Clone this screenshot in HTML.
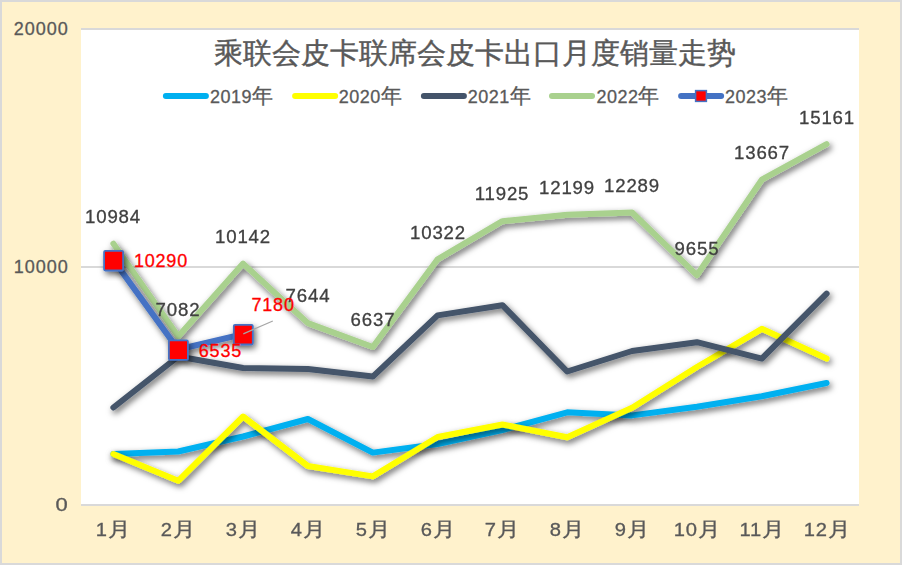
<!DOCTYPE html>
<html><head><meta charset="utf-8"><style>
html,body{margin:0;padding:0}
body{width:902px;height:565px;overflow:hidden;position:relative;background:#FFF2CC;font-family:"Liberation Sans",sans-serif}
.t{position:absolute;white-space:nowrap;font-size:18px;line-height:18px;letter-spacing:0.8px;-webkit-text-stroke:0.3px currentColor}
.title{position:absolute;left:214px;top:39px;font-size:29px;line-height:29px;white-space:nowrap;color:#595959;-webkit-text-stroke:0.4px #595959}
.ya{right:834.2px;text-align:right;color:#595959;letter-spacing:1.0px;margin-right:-1px}
.xa{width:80px;text-align:center;color:#595959;transform:scaleX(1.12)}
.xa .c{font-size:20px}
.dl{width:80px;text-align:center;color:#404040;transform:scaleX(1.035)}
.c{font-size:21px;letter-spacing:0}
.rl{color:#FF0000}
</style></head><body>
<svg width="902" height="565" viewBox="0 0 902 565" style="position:absolute;left:0;top:0">
<defs><filter id="sh" x="-50%" y="-50%" width="200%" height="200%"><feDropShadow dx="2" dy="3" stdDeviation="3" flood-color="#000" flood-opacity="0.6"/></filter></defs>
<rect x="1" y="1" width="900" height="563" fill="#FFF2CC" stroke="#D9D9D9" stroke-width="2"/>
<rect x="81" y="29" width="778" height="476" fill="#FFFFFF"/>
<line x1="81" y1="29" x2="859" y2="29" stroke="#D9D9D9" stroke-width="2"/>
<line x1="81" y1="267" x2="859" y2="267" stroke="#D9D9D9" stroke-width="2"/>
<line x1="81" y1="505" x2="859" y2="505" stroke="#D9D9D9" stroke-width="2"/>
<polyline points="113.4,454.0 178.2,451.5 243.1,436.5 307.9,419.0 372.8,452.6 437.6,444.0 502.4,430.0 567.2,412.3 632.1,415.4 696.9,406.8 761.8,396.2 826.6,383.0" stroke="#00B0F0" fill="none" stroke-width="6" stroke-linecap="round" stroke-linejoin="round" filter="url(#sh)"/>
<polyline points="113.4,454.0 178.2,480.8 243.1,416.5 307.9,466.0 372.8,476.4 437.6,437.0 502.4,424.5 567.2,437.2 632.1,407.7 696.9,367.0 761.8,328.8 826.6,358.6" stroke="#FFFF00" fill="none" stroke-width="6" stroke-linecap="round" stroke-linejoin="round" filter="url(#sh)"/>
<polyline points="113.4,407.5 178.2,356.5 243.1,368.0 307.9,369.0 372.8,376.6 437.6,315.4 502.4,305.2 567.2,371.5 632.1,351.0 696.9,342.2 761.8,358.6 826.6,293.7" stroke="#44546A" fill="none" stroke-width="6" stroke-linecap="round" stroke-linejoin="round" filter="url(#sh)"/>
<polyline points="113.4,243.6 178.2,336.4 243.1,263.6 307.9,323.1 372.8,347.0 437.6,259.3 502.4,221.2 567.2,214.7 632.1,212.5 696.9,275.2 761.8,179.7 826.6,144.2" stroke="#A9D18E" fill="none" stroke-width="6" stroke-linecap="round" stroke-linejoin="round" filter="url(#sh)"/>
<polyline points="113.4,260.1 178.2,349.5 243.1,334.1" stroke="#4472C4" fill="none" stroke-width="6" stroke-linecap="round" stroke-linejoin="round" filter="url(#sh)"/>
<rect x="104.1" y="250.9" width="19" height="19.6" rx="1.2" fill="#FF0000" stroke="#4472C4" stroke-width="1.8" filter="url(#sh)"/>
<rect x="168.9" y="340.3" width="19" height="19.6" rx="1.2" fill="#FF0000" stroke="#4472C4" stroke-width="1.8" filter="url(#sh)"/>
<rect x="233.8" y="324.9" width="19" height="19.6" rx="1.2" fill="#FF0000" stroke="#4472C4" stroke-width="1.8" filter="url(#sh)"/>
<line x1="243.3" y1="333.8" x2="272.8" y2="321" stroke="#A6A6A6" stroke-width="1.3"/>
<line x1="165.9" y1="96" x2="205.9" y2="96" stroke="#00B0F0" stroke-width="6" stroke-linecap="round"/>
<line x1="295.1" y1="96" x2="335.1" y2="96" stroke="#FFFF00" stroke-width="6" stroke-linecap="round"/>
<line x1="423.9" y1="96" x2="463.9" y2="96" stroke="#44546A" stroke-width="6" stroke-linecap="round"/>
<line x1="552.0" y1="96" x2="592.0" y2="96" stroke="#A9D18E" stroke-width="6" stroke-linecap="round"/>
<line x1="681.1" y1="96" x2="721.1" y2="96" stroke="#4472C4" stroke-width="6" stroke-linecap="round"/>
<rect x="695.6" y="90.6" width="10.8" height="10.8" fill="#FF0000" stroke="#4472C4" stroke-width="1.5"/>
</svg>
<div class="title">乘联会皮卡联席会皮卡出口月度销量走势</div>
<div class="t" style="left:210.0px;top:87.2px;color:#595959;letter-spacing:0.5px">2019<span class="c">年</span></div>
<div class="t" style="left:338.8px;top:87.2px;color:#595959;letter-spacing:0.5px">2020<span class="c">年</span></div>
<div class="t" style="left:467.7px;top:87.2px;color:#595959;letter-spacing:0.5px">2021<span class="c">年</span></div>
<div class="t" style="left:596.4px;top:87.2px;color:#595959;letter-spacing:0.5px">2022<span class="c">年</span></div>
<div class="t" style="left:724.9px;top:87.2px;color:#595959;letter-spacing:0.5px">2023<span class="c">年</span></div>
<div class="t ya" style="top:19.5px;">20000</div>
<div class="t ya" style="top:257.5px;">10000</div>
<div class="t ya" style="top:495.5px;transform:scaleX(1.22);transform-origin:100% 50%;">0</div>
<div class="t xa" style="left:73.4px;top:520px;">1<span class="c">月</span></div>
<div class="t xa" style="left:138.2px;top:520px;">2<span class="c">月</span></div>
<div class="t xa" style="left:203.1px;top:520px;">3<span class="c">月</span></div>
<div class="t xa" style="left:267.9px;top:520px;">4<span class="c">月</span></div>
<div class="t xa" style="left:332.8px;top:520px;">5<span class="c">月</span></div>
<div class="t xa" style="left:397.6px;top:520px;">6<span class="c">月</span></div>
<div class="t xa" style="left:462.4px;top:520px;">7<span class="c">月</span></div>
<div class="t xa" style="left:527.2px;top:520px;">8<span class="c">月</span></div>
<div class="t xa" style="left:592.1px;top:520px;">9<span class="c">月</span></div>
<div class="t xa" style="left:656.9px;top:520px;">10<span class="c">月</span></div>
<div class="t xa" style="left:721.8px;top:520px;">11<span class="c">月</span></div>
<div class="t xa" style="left:786.6px;top:520px;">12<span class="c">月</span></div>
<div class="t dl" style="left:73.4px;top:208.1px;">10984</div>
<div class="t dl" style="left:138.2px;top:300.9px;">7082</div>
<div class="t dl" style="left:203.1px;top:228.1px;">10142</div>
<div class="t dl" style="left:267.9px;top:286.6px;">7644</div>
<div class="t dl" style="left:332.8px;top:310.7px;">6637</div>
<div class="t dl" style="left:397.6px;top:223.8px;">10322</div>
<div class="t dl" style="left:462.4px;top:184.7px;">11925</div>
<div class="t dl" style="left:527.2px;top:179.2px;">12199</div>
<div class="t dl" style="left:592.1px;top:177.0px;">12289</div>
<div class="t dl" style="left:656.9px;top:239.7px;">9655</div>
<div class="t dl" style="left:721.8px;top:144.2px;">13667</div>
<div class="t dl" style="left:786.6px;top:108.7px;">15161</div>
<div class="t rl" style="left:133.9px;top:252.1px;">10290</div>
<div class="t rl" style="left:198.8px;top:341.5px;">6535</div>
<div class="t rl" style="left:251.5px;top:295.5px;">7180</div>
</body></html>
